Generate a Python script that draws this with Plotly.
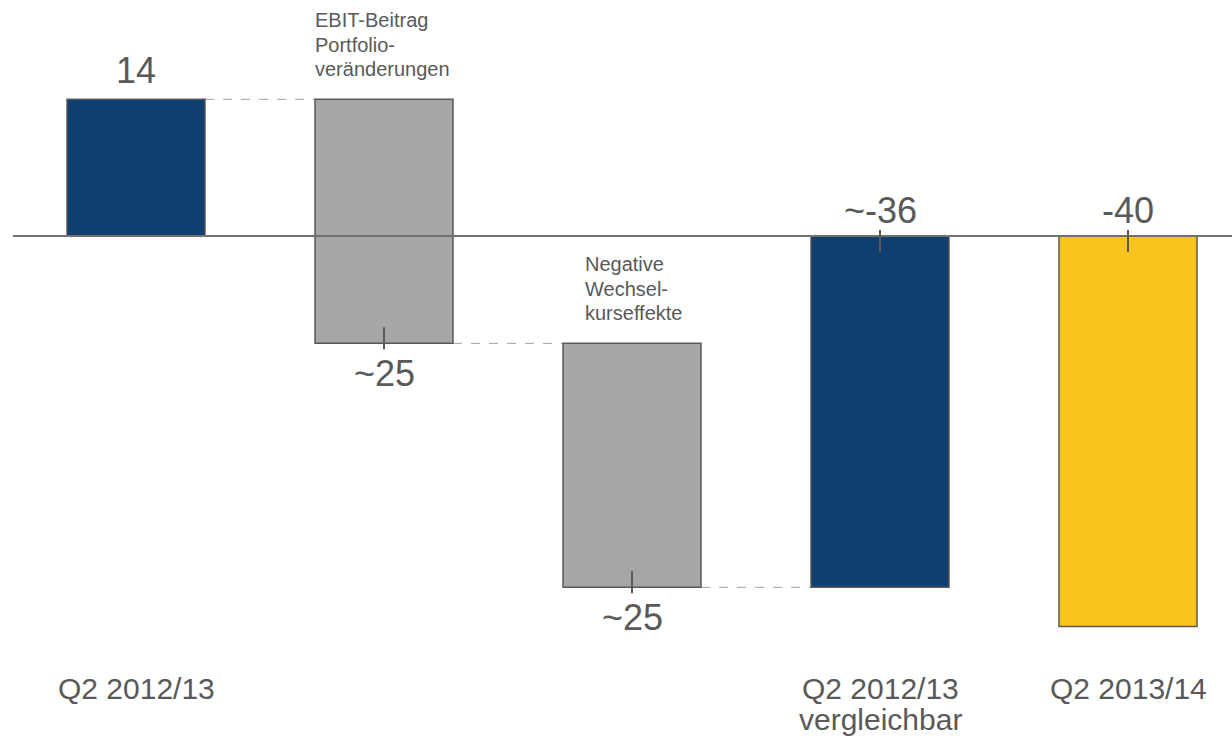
import plotly.graph_objects as go

# ---- data ----
categories = ["Q2 2012/13", "EBIT-Beitrag Portfolioveränderungen",
              "Negative Wechselkurseffekte", "Q2 2012/13 vergleichbar", "Q2 2013/14"]
measures = ["absolute", "relative", "relative", "total", "absolute"]
values = [14, -25, -25, -36, -40]
value_labels = ["14", "~25", "~25", "~-36", "-40"]
bar_colors = ["#0F3F6E", "#A6A6A6", "#A6A6A6", "#0F3F6E", "#F9C41E"]
x_labels = [["Q2 2012/13"], [], [], ["Q2 2012/13", "vergleichbar"], ["Q2 2013/14"]]
side_notes = {1: ["EBIT-Beitrag", "Portfolio-", "veränderungen"],
              2: ["Negative", "Wechsel-", "kurseffekte"]}

# ---- compute waterfall bases ----
bases, heights, ends = [], [], []
running = 0
for m, v in zip(measures, values):
    if m == "relative":
        start, end = running, running + v
    else:
        start, end = 0, v
    bases.append(min(start, end))
    heights.append(abs(end - start))
    ends.append((start, end))
    running = end

W, H = 1232, 744
ZERO_PX = 236
K = 9.76  # px per unit
y_top = ZERO_PX / K
y_bot = -(H - ZERO_PX) / K
PX_PER_CAT = 248
CENTER0 = 136
x0 = -CENTER0 / PX_PER_CAT
x1 = x0 + W / PX_PER_CAT
BW = 138 / PX_PER_CAT

def py(p):
    return (ZERO_PX - p) / K

def pu(p):
    return p / K

TXT = "#595959"
FONT = "Liberation Sans, Arial, sans-serif"

xs = list(range(len(categories)))
fig = go.Figure(go.Bar(
    x=xs, y=heights, base=bases, width=BW,
    marker=dict(color=bar_colors, line=dict(color="#595959", width=1.5)),
    hoverinfo="skip",
))

shapes = []
# zero line
shapes.append(dict(type="line", xref="paper", yref="y", x0=13 / W, x1=1, y0=0, y1=0,
                   line=dict(color="#707070", width=2)))
# connectors between consecutive bars at the running level
for i in range(len(xs) - 1):
    s, e = ends[i]
    if measures[i + 1] in ("relative", "total"):
        shapes.append(dict(type="line", x0=i + BW / 2, x1=i + 1 - BW / 2, y0=e, y1=e,
                           line=dict(color="#A0A0A0", width=1, dash="dash"), layer="below"))

annotations = []
for i, (lab, (s, e)) in enumerate(zip(value_labels, ends)):
    top = max(s, e)
    bot = min(s, e)
    if i == 0:
        ylab = top + pu(29)
    elif measures[i] == "relative":
        ylab = bot - pu(30)
        shapes.append(dict(type="line", x0=i, x1=i, y0=bot + pu(16), y1=bot - pu(6),
                           line=dict(color=TXT, width=2)))
    else:
        ylab = top + pu(26)
        shapes.append(dict(type="line", x0=i, x1=i, y0=top + pu(6), y1=top - pu(16),
                           line=dict(color=TXT, width=2)))
    annotations.append(dict(x=i, y=ylab, text=lab, showarrow=False, xanchor="center",
                            yanchor="middle", font=dict(family=FONT, size=36, color=TXT)))

for i, lines in enumerate(x_labels):
    for j, t in enumerate(lines):
        annotations.append(dict(x=i, y=py(688 + 31 * j), text=t, showarrow=False,
                                xanchor="center", yanchor="middle",
                                font=dict(family=FONT, size=30, color=TXT)))

note_pos = {1: (313, 20), 2: (583, 264)}
for i, lines in side_notes.items():
    xp, yp = note_pos[i]
    for j, t in enumerate(lines):
        annotations.append(dict(x=x0 + xp / PX_PER_CAT, y=py(yp + 24.5 * j), text=t,
                                showarrow=False, xanchor="left", yanchor="middle",
                                font=dict(family=FONT, size=20, color=TXT)))

fig.update_layout(
    width=W, height=H,
    margin=dict(l=0, r=0, t=0, b=0),
    paper_bgcolor="white", plot_bgcolor="white",
    showlegend=False,
    xaxis=dict(range=[x0, x1], visible=False, fixedrange=True),
    yaxis=dict(range=[y_bot, y_top], visible=False, fixedrange=True),
    shapes=shapes, annotations=annotations,
)

fig.write_html("out.html")
